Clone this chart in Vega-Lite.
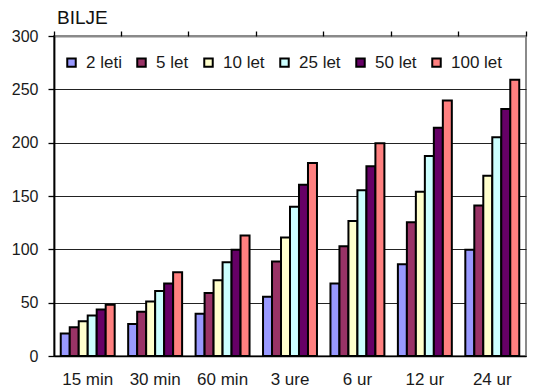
{
  "$schema": "https://vega.github.io/schema/vega-lite/v6.json",
  "autosize": "none",
  "width": 472,
  "height": 320,
  "padding": {"left": 54, "top": 36, "right": 8, "bottom": 36},
  "background": "white",
  "title": {
    "text": "BILJE",
    "anchor": "start",
    "frame": "group",
    "font": "Liberation Sans",
    "fontSize": 19,
    "fontWeight": "normal",
    "color": "#111",
    "baseline": "alphabetic",
    "offset": -15,
    "dx": 3
  },
  "config": {
    "view": {"stroke": "#8a8a8a", "strokeWidth": 2},
    "font": "Liberation Sans"
  },
  "resolve": {"scale": {"x": "shared"}, "axis": {"x": "independent"}},
  "data": {
    "values": [
      {"dur": "15 min", "rp": "2 leti", "v": 21},
      {"dur": "15 min", "rp": "5 let", "v": 27},
      {"dur": "15 min", "rp": "10 let", "v": 32.5},
      {"dur": "15 min", "rp": "25 let", "v": 38},
      {"dur": "15 min", "rp": "50 let", "v": 43.5},
      {"dur": "15 min", "rp": "100 let", "v": 48},
      {"dur": "30 min", "rp": "2 leti", "v": 30},
      {"dur": "30 min", "rp": "5 let", "v": 41.5},
      {"dur": "30 min", "rp": "10 let", "v": 51},
      {"dur": "30 min", "rp": "25 let", "v": 61},
      {"dur": "30 min", "rp": "50 let", "v": 68},
      {"dur": "30 min", "rp": "100 let", "v": 78.5},
      {"dur": "60 min", "rp": "2 leti", "v": 39.5},
      {"dur": "60 min", "rp": "5 let", "v": 59},
      {"dur": "60 min", "rp": "10 let", "v": 71},
      {"dur": "60 min", "rp": "25 let", "v": 88},
      {"dur": "60 min", "rp": "50 let", "v": 99.5},
      {"dur": "60 min", "rp": "100 let", "v": 113},
      {"dur": "3 ure", "rp": "2 leti", "v": 55.5},
      {"dur": "3 ure", "rp": "5 let", "v": 88.5},
      {"dur": "3 ure", "rp": "10 let", "v": 111},
      {"dur": "3 ure", "rp": "25 let", "v": 140},
      {"dur": "3 ure", "rp": "50 let", "v": 160.5},
      {"dur": "3 ure", "rp": "100 let", "v": 181},
      {"dur": "6 ur", "rp": "2 leti", "v": 68},
      {"dur": "6 ur", "rp": "5 let", "v": 103},
      {"dur": "6 ur", "rp": "10 let", "v": 126.5},
      {"dur": "6 ur", "rp": "25 let", "v": 155.5},
      {"dur": "6 ur", "rp": "50 let", "v": 178},
      {"dur": "6 ur", "rp": "100 let", "v": 199.5},
      {"dur": "12 ur", "rp": "2 leti", "v": 86},
      {"dur": "12 ur", "rp": "5 let", "v": 125.5},
      {"dur": "12 ur", "rp": "10 let", "v": 154},
      {"dur": "12 ur", "rp": "25 let", "v": 187.5},
      {"dur": "12 ur", "rp": "50 let", "v": 214},
      {"dur": "12 ur", "rp": "100 let", "v": 239.5},
      {"dur": "24 ur", "rp": "2 leti", "v": 99.5},
      {"dur": "24 ur", "rp": "5 let", "v": 141},
      {"dur": "24 ur", "rp": "10 let", "v": 169},
      {"dur": "24 ur", "rp": "25 let", "v": 205},
      {"dur": "24 ur", "rp": "50 let", "v": 231.5},
      {"dur": "24 ur", "rp": "100 let", "v": 259}
    ]
  },
  "layer": [
    {
      "mark": {"type": "bar", "stroke": "#000", "strokeWidth": 2, "strokeJoin": "miter"},
      "encoding": {
        "x": {
          "field": "dur",
          "type": "nominal",
          "sort": ["15 min", "30 min", "60 min", "3 ure", "6 ur", "12 ur", "24 ur"],
          "scale": {"paddingInner": 0, "paddingOuter": 0},
          "axis": {
            "title": null,
            "labelAngle": 0,
            "labelFont": "Liberation Sans",
            "labelFontSize": 17,
            "labelColor": "#1a1a1a",
            "labelPadding": 15,
            "ticks": false,
            "tickSize": 0,
            "domain": true,
            "domainColor": "#000",
            "domainWidth": 1.6,
            "grid": false
          }
        },
        "xOffset": {
          "field": "rp",
          "type": "nominal",
          "sort": ["2 leti", "5 let", "10 let", "25 let", "50 let", "100 let"],
          "scale": {"paddingInner": 0, "paddingOuter": 0.75}
        },
        "y": {
          "field": "v",
          "type": "quantitative",
          "scale": {"domain": [0, 300], "nice": false},
          "axis": {
            "title": null,
            "values": [0, 50, 100, 150, 200, 250, 300],
            "labelFont": "Liberation Sans",
            "labelFontSize": 16,
            "labelColor": "#1a1a1a",
            "labelPadding": 10,
            "tickSize": 6,
            "tickColor": "#000",
            "tickWidth": 1.3,
            "domainColor": "#000",
            "domainWidth": 1.8,
            "grid": true,
            "gridColor": {"condition": {"test": "datum.value == 300", "value": "#8a8a8a"}, "value": "#222"},
            "gridWidth": {"condition": {"test": "datum.value == 300", "value": 2}, "value": 1.2}
          }
        },
        "color": {
          "field": "rp",
          "type": "nominal",
          "sort": ["2 leti", "5 let", "10 let", "25 let", "50 let", "100 let"],
          "scale": {
            "domain": ["2 leti", "5 let", "10 let", "25 let", "50 let", "100 let"],
            "range": ["#9999FF", "#993366", "#FFFFCC", "#CCFFFF", "#660066", "#FF8080"]
          },
          "legend": {
            "title": null,
            "orient": "none",
            "legendX": 9,
            "legendY": 18,
            "direction": "horizontal",
            "columns": 6,
            "columnPadding": 11,
            "padding": 0,
            "symbolType": "square",
            "symbolSize": 72,
            "symbolStrokeColor": "#000",
            "symbolStrokeWidth": 2,
            "symbolOpacity": 1,
            "labelFont": "Liberation Sans",
            "labelFontSize": 17,
            "labelColor": "#1a1a1a",
            "labelOffset": 6
          }
        }
      }
    },
    {
      "mark": {"type": "rule", "opacity": 0},
      "encoding": {
        "x": {
          "field": "dur",
          "type": "nominal",
          "sort": ["15 min", "30 min", "60 min", "3 ure", "6 ur", "12 ur", "24 ur"],
          "axis": {
            "title": null,
            "labels": false,
            "domain": false,
            "grid": false,
            "ticks": true,
            "tickSize": 5,
            "tickColor": "#000",
            "tickWidth": 1.3,
            "bandPosition": 1,
            "tickExtra": true
          }
        }
      }
    }
  ]
}
